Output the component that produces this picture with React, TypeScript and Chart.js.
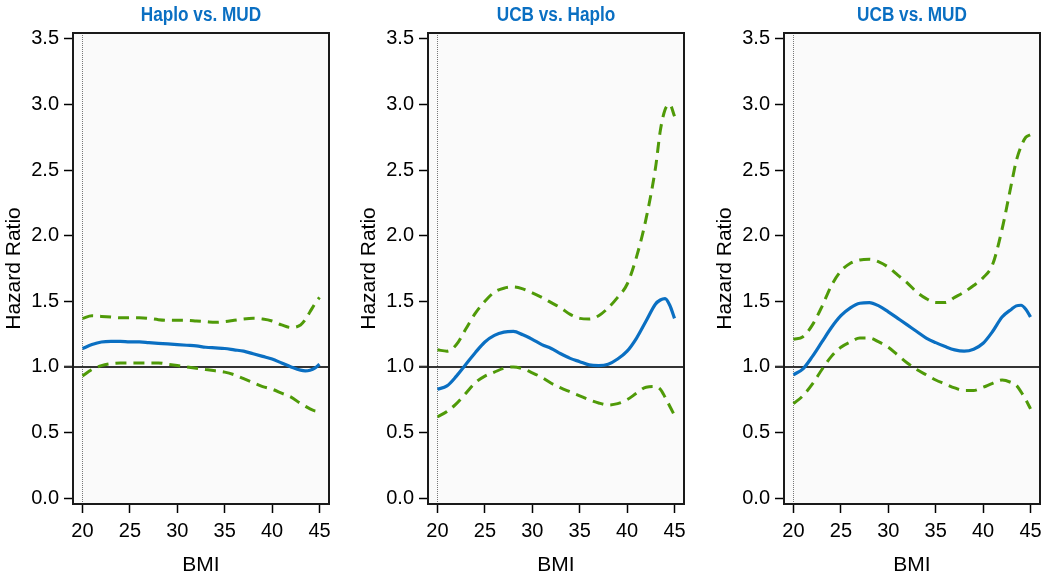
import React, { useEffect, useRef } from "react";
import { Chart, registerables } from "chart.js";

Chart.register(...registerables);

// BMI grid (x values)
const bmi = [20, 21, 22, 23, 24, 25, 26, 27, 28, 29, 30, 31, 32, 33, 34, 35, 36, 37, 38, 39, 40, 41, 42, 43, 43.5, 44, 44.5, 45];
const xTicks = [20, 25, 30, 35, 40, 45];
const yTicks = [0, 0.5, 1, 1.5, 2, 2.5, 3, 3.5];
const titles = ["Haplo vs. MUD", "UCB vs. Haplo", "UCB vs. MUD"];

// Haplo vs. MUD
const haploMudHR = [1.14, 1.17, 1.19, 1.195, 1.195, 1.19, 1.19, 1.185, 1.18, 1.175, 1.17, 1.165, 1.16, 1.15, 1.145, 1.14, 1.13, 1.12, 1.1, 1.08, 1.06, 1.03, 1.0, 0.975, 0.97, 0.975, 0.99, 1.02];
const haploMudUpper = [1.37, 1.39, 1.385, 1.38, 1.375, 1.375, 1.375, 1.37, 1.36, 1.355, 1.355, 1.355, 1.35, 1.345, 1.34, 1.345, 1.355, 1.365, 1.37, 1.365, 1.35, 1.32, 1.3, 1.32, 1.36, 1.42, 1.48, 1.53];
const haploMudLower = [0.93, 0.98, 1.01, 1.025, 1.03, 1.03, 1.03, 1.03, 1.03, 1.02, 1.01, 1.0, 0.99, 0.98, 0.97, 0.96, 0.94, 0.91, 0.88, 0.85, 0.83, 0.8, 0.77, 0.72, 0.7, 0.68, 0.665, 0.66];

// UCB vs. Haplo
const ucbHaploHR = [0.83, 0.855, 0.93, 1.02, 1.11, 1.19, 1.24, 1.265, 1.27, 1.245, 1.21, 1.17, 1.14, 1.1, 1.065, 1.04, 1.015, 1.01, 1.02, 1.06, 1.12, 1.22, 1.35, 1.48, 1.51, 1.52, 1.47, 1.37];
const ucbHaploUpper = [1.13, 1.12, 1.17, 1.29, 1.41, 1.5, 1.57, 1.6, 1.61, 1.595, 1.565, 1.53, 1.49, 1.45, 1.4, 1.37, 1.365, 1.39, 1.45, 1.53, 1.63, 1.84, 2.13, 2.52, 2.8, 2.96, 3.0, 2.91];
const ucbHaploLower = [0.62, 0.66, 0.72, 0.8, 0.88, 0.93, 0.96, 0.99, 1.0, 0.985, 0.955, 0.92, 0.875, 0.84, 0.81, 0.78, 0.75, 0.725, 0.71, 0.72, 0.75, 0.8, 0.845, 0.85, 0.83, 0.77, 0.7, 0.63];

// UCB vs. MUD
const ucbMudHR = [0.94, 0.985, 1.08, 1.19, 1.3, 1.39, 1.45, 1.485, 1.49, 1.465, 1.42, 1.37, 1.32, 1.27, 1.22, 1.185, 1.155, 1.13, 1.12, 1.135, 1.18, 1.27, 1.38, 1.44, 1.465, 1.47, 1.44, 1.38];
const ucbMudUpper = [1.21, 1.23, 1.32, 1.46, 1.62, 1.73, 1.79, 1.815, 1.82, 1.8, 1.76, 1.7, 1.64, 1.57, 1.52, 1.49, 1.49, 1.53, 1.57, 1.62, 1.68, 1.78, 2.05, 2.4, 2.57, 2.68, 2.75, 2.77];
const ucbMudLower = [0.72, 0.78, 0.87, 0.98, 1.08, 1.15, 1.19, 1.22, 1.22, 1.19, 1.15, 1.09, 1.03, 0.98, 0.94, 0.9, 0.87, 0.84, 0.82, 0.82, 0.845, 0.875, 0.9, 0.88, 0.86, 0.81, 0.75, 0.68];

const BLUE = "#0a6fc2";
const GREEN = "#4f9a08";
const FONT = '"Liberation Sans", Arial, sans-serif';

type PanelProps = {
  title: string;
  hr: number[];
  upper: number[];
  lower: number[];
  left: number;
};

function Panel({ title, hr, upper, lower, left }: PanelProps) {
  const ref = useRef<HTMLCanvasElement | null>(null);

  useEffect(() => {
    if (!ref.current) return;
    const toPts = (arr: number[]) => arr.map((v, i) => ({ x: bmi[i], y: v }));

    const framePlugin = {
      id: "frame",
      beforeDraw(chart: any) {
        const { ctx, chartArea: a } = chart;
        ctx.save();
        ctx.fillStyle = "#fafafa";
        ctx.fillRect(a.left, a.top, a.right - a.left, a.bottom - a.top);
        ctx.restore();
      },
      beforeDatasetsDraw(chart: any) {
        const { ctx, chartArea: a, scales } = chart;
        ctx.save();
        const x20 = Math.round(scales.x.getPixelForValue(20)) + 0.5;
        ctx.strokeStyle = "#777";
        ctx.lineWidth = 1;
        ctx.setLineDash([1, 1]);
        ctx.beginPath();
        ctx.moveTo(x20, a.top);
        ctx.lineTo(x20, a.bottom);
        ctx.stroke();
        ctx.setLineDash([]);
        const y1 = scales.y.getPixelForValue(1);
        ctx.strokeStyle = "#333";
        ctx.lineWidth = 2;
        ctx.beginPath();
        ctx.moveTo(a.left - 9, y1);
        ctx.lineTo(a.right, y1);
        ctx.stroke();
        ctx.restore();
      },
      afterDatasetsDraw(chart: any) {
        const { ctx, chartArea: a } = chart;
        ctx.save();
        ctx.strokeStyle = "#1a1a1a";
        ctx.lineWidth = 2;
        ctx.strokeRect(a.left, a.top, a.right - a.left, a.bottom - a.top);
        ctx.restore();
      },
      afterDraw(chart: any) {
        const { ctx, chartArea: a } = chart;
        ctx.save();
        ctx.fillStyle = BLUE;
        ctx.font = 'bold 20px "Liberation Sans", Arial, sans-serif';
        ctx.textAlign = "center";
        ctx.textBaseline = "middle";
        ctx.translate((a.left + a.right) / 2, 15);
        ctx.scale(0.86, 1);
        ctx.fillText(title, 0, 0);
        ctx.restore();
      },
    };

    const chart = new Chart(ref.current, {
      type: "line",
      data: {
        datasets: [
          {
            label: "Upper",
            data: toPts(upper),
            borderColor: GREEN,
            borderWidth: 3,
            borderDash: [11, 7],
            pointRadius: 0,
            fill: false,
            cubicInterpolationMode: "monotone",
          },
          {
            label: "Lower",
            data: toPts(lower),
            borderColor: GREEN,
            borderWidth: 3,
            borderDash: [11, 7],
            pointRadius: 0,
            fill: false,
            cubicInterpolationMode: "monotone",
          },
          {
            label: "HR",
            data: toPts(hr),
            borderColor: BLUE,
            borderWidth: 3.2,
            pointRadius: 0,
            fill: false,
            cubicInterpolationMode: "monotone",
          },
        ],
      },
      options: {
        animation: false,
        responsive: false,
        events: [],
        layout: { padding: { top: 33, right: 10, left: 0, bottom: 0 } },
        plugins: {
          legend: { display: false },
          title: { display: false },
          tooltip: { enabled: false },
        },
        scales: {
          x: {
            type: "linear",
            min: 19,
            max: 46,
            afterBuildTicks: (s: any) => {
              s.ticks = xTicks.map((v) => ({ value: v }));
            },
            afterFit: (s: any) => {
              s.height = 76;
            },
            grid: {
              drawOnChartArea: false,
              drawTicks: true,
              tickLength: 9,
              tickColor: "#000",
              tickWidth: 1.5,
            },
            border: { display: false },
            ticks: {
              color: "#000",
              font: { family: FONT, size: 20 },
              padding: 6,
              maxRotation: 0,
              callback: (v: any) => String(v),
            },
            title: {
              display: true,
              text: "BMI",
              color: "#000",
              font: { family: FONT, size: 21 },
              padding: { top: 0, bottom: 2 },
            },
          },
          y: {
            type: "linear",
            min: -0.045,
            max: 3.545,
            afterBuildTicks: (s: any) => {
              s.ticks = yTicks.map((v) => ({ value: v }));
            },
            afterFit: (s: any) => {
              s.width = 73;
            },
            grid: {
              drawOnChartArea: false,
              drawTicks: true,
              tickLength: 9,
              tickColor: "#000",
              tickWidth: 1.5,
            },
            border: { display: false },
            ticks: {
              color: "#000",
              font: { family: FONT, size: 20 },
              padding: 5,
              callback: (v: any) => Number(v).toFixed(1),
            },
            title: {
              display: true,
              text: "Hazard Ratio",
              color: "#000",
              font: { family: FONT, size: 21 },
              padding: { top: 2, bottom: 0 },
            },
          },
        },
      },
      plugins: [framePlugin],
    } as any);

    return () => chart.destroy();
  }, [title, hr, upper, lower]);

  return (
    <canvas
      ref={ref}
      width={339}
      height={580}
      style={{ position: "absolute", left, top: 0, width: 339, height: 580 }}
    />
  );
}

export default function App() {
  return (
    <div
      style={{
        position: "fixed",
        left: 0,
        top: 0,
        width: 1050,
        height: 580,
        background: "#fff",
        overflow: "hidden",
      }}
    >
      <Panel title={titles[0]} hr={haploMudHR} upper={haploMudUpper} lower={haploMudLower} left={0} />
      <Panel title={titles[1]} hr={ucbHaploHR} upper={ucbHaploUpper} lower={ucbHaploLower} left={355} />
      <Panel title={titles[2]} hr={ucbMudHR} upper={ucbMudUpper} lower={ucbMudLower} left={711} />
    </div>
  );
}
